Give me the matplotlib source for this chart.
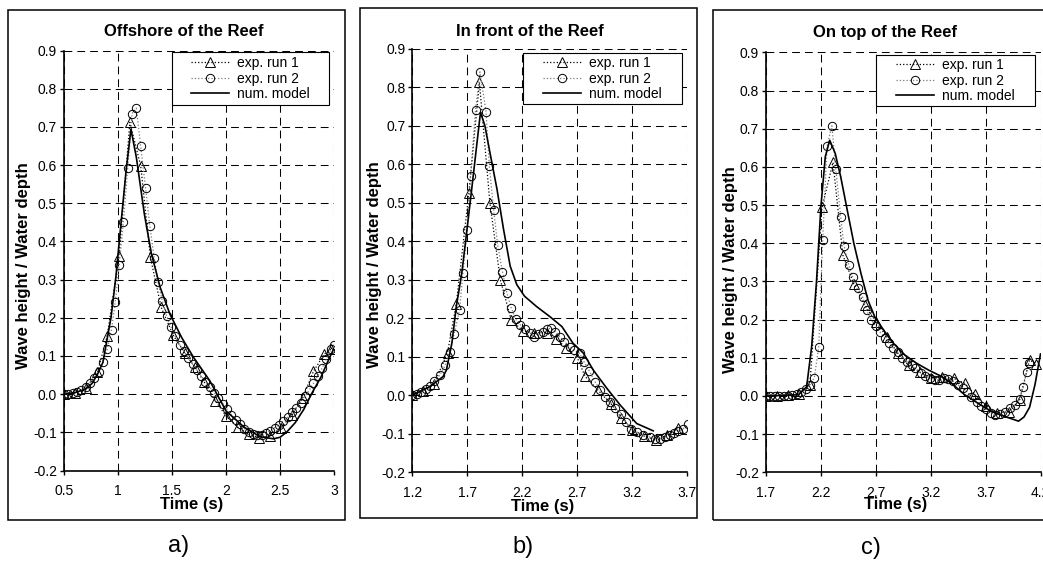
import matplotlib
matplotlib.use('Agg')
import matplotlib.pyplot as plt
from matplotlib.patches import Rectangle

plt.rcParams['font.family'] = ['Liberation Sans', 'DejaVu Sans']

# ---- data: panel a) offshore of the reef ----
a_t1 = [0.50, 0.60, 0.70, 0.81, 0.90, 1.01, 1.11, 1.21, 1.30, 1.40, 1.51, 1.62, 1.71,
        1.80, 1.90, 2.00, 2.11, 2.21, 2.31, 2.41, 2.51, 2.61, 2.71, 2.81, 2.91, 2.97]
a_h1 = [0.000, 0.003, 0.015, 0.057, 0.153, 0.362, 0.712, 0.598, 0.358, 0.227, 0.155, 0.107, 0.072,
        0.031, -0.017, -0.057, -0.087, -0.105, -0.114, -0.110, -0.088, -0.055, -0.010, 0.060, 0.105, 0.118]
a_t2 = [0.50, 0.54, 0.58, 0.62, 0.66, 0.70, 0.74, 0.78, 0.82, 0.86, 0.90, 0.94, 0.975, 1.01, 1.05,
        1.09, 1.13, 1.17, 1.21, 1.255, 1.295, 1.335, 1.37, 1.41, 1.45, 1.49, 1.53, 1.57, 1.61, 1.65,
        1.69, 1.73, 1.77, 1.81, 1.85, 1.89, 1.93, 1.97, 2.01, 2.05, 2.09, 2.13, 2.17, 2.21, 2.25,
        2.29, 2.33, 2.37, 2.41, 2.45, 2.49, 2.53, 2.57, 2.61, 2.65, 2.69, 2.73, 2.77, 2.81, 2.85,
        2.89, 2.93, 2.97, 3.00]
a_h2 = [0.000, 0.000, 0.003, 0.006, 0.012, 0.020, 0.030, 0.043, 0.058, 0.083, 0.118, 0.169, 0.242, 0.337, 0.450,
        0.592, 0.735, 0.749, 0.649, 0.540, 0.440, 0.356, 0.293, 0.245, 0.205, 0.177, 0.152, 0.130, 0.112, 0.095,
        0.079, 0.063, 0.048, 0.033, 0.019, 0.004, -0.010, -0.025, -0.040, -0.054, -0.067, -0.078, -0.090, -0.099, -0.104,
        -0.107, -0.106, -0.102, -0.096, -0.088, -0.080, -0.070, -0.060, -0.048, -0.035, -0.022, -0.006, 0.010, 0.028, 0.048,
        0.068, 0.092, 0.117, 0.130]
a_tm = [0.50, 0.60, 0.70, 0.76, 0.81, 0.86, 0.935, 0.98, 1.03, 1.075, 1.12, 1.17, 1.245, 1.31, 1.39,
        1.48, 1.59, 1.70, 1.85, 2.00, 2.17, 2.32, 2.44, 2.50, 2.56, 2.64, 2.72, 2.80, 2.88, 2.95, 3.00]
a_hm = [0.000, 0.004, 0.013, 0.028, 0.052, 0.083, 0.200, 0.306, 0.454, 0.585, 0.694, 0.620, 0.470, 0.367, 0.280,
        0.210, 0.148, 0.096, 0.035, -0.044, -0.087, -0.112, -0.117, -0.113, -0.100, -0.075, -0.040, 0.005, 0.045, 0.090, 0.120]

# ---- data: panel b) in front of the reef ----
b_t1 = [1.20, 1.30, 1.40, 1.52, 1.60, 1.715, 1.81, 1.906, 2.00, 2.10, 2.21, 2.31, 2.42,
        2.51, 2.60, 2.70, 2.77, 2.89, 3.01, 3.10, 3.20, 3.31, 3.42, 3.52, 3.62]
b_h1 = [0.000, 0.010, 0.030, 0.110, 0.237, 0.526, 0.813, 0.498, 0.300, 0.194, 0.166, 0.162, 0.162,
        0.145, 0.123, 0.097, 0.049, 0.012, -0.024, -0.059, -0.090, -0.107, -0.117, -0.105, -0.085]
b_t2 = [1.20, 1.24, 1.28, 1.32, 1.36, 1.40, 1.45, 1.50, 1.54, 1.58, 1.63, 1.66, 1.70, 1.73, 1.775,
        1.815, 1.87, 1.90, 1.94, 1.976, 2.02, 2.06, 2.10, 2.14, 2.18, 2.22, 2.27, 2.31, 2.345, 2.385,
        2.42, 2.46, 2.50, 2.54, 2.58, 2.63, 2.67, 2.72, 2.76, 2.81, 2.86, 2.91, 2.95, 3.00, 3.04,
        3.10, 3.14, 3.19, 3.24, 3.30, 3.36, 3.41, 3.45, 3.50, 3.54, 3.58, 3.62, 3.66, 3.71]
b_h2 = [0.000, 0.003, 0.008, 0.015, 0.024, 0.036, 0.052, 0.078, 0.113, 0.159, 0.222, 0.316, 0.430, 0.570, 0.742,
        0.840, 0.737, 0.596, 0.480, 0.390, 0.320, 0.265, 0.226, 0.197, 0.183, 0.171, 0.161, 0.150, 0.159, 0.165,
        0.171, 0.174, 0.165, 0.152, 0.139, 0.126, 0.116, 0.109, 0.087, 0.062, 0.035, 0.012, -0.005, -0.018, -0.033,
        -0.048, -0.070, -0.087, -0.096, -0.104, -0.109, -0.113, -0.113, -0.109, -0.104, -0.098, -0.094, -0.088, -0.074]
b_tm = [1.20, 1.36, 1.48, 1.51, 1.56, 1.60, 1.65, 1.69, 1.74, 1.785, 1.82, 1.86, 1.906, 1.97,
        2.03, 2.09, 2.15, 2.22, 2.33, 2.45, 2.56, 2.66, 2.755, 2.845, 2.97, 3.09, 3.24, 3.39]
b_hm = [0.000, 0.022, 0.048, 0.065, 0.135, 0.230, 0.317, 0.413, 0.535, 0.648, 0.735, 0.700, 0.630, 0.535,
        0.430, 0.335, 0.287, 0.257, 0.230, 0.204, 0.178, 0.135, 0.109, 0.065, 0.017, -0.026, -0.074, -0.093]

# ---- data: panel c) on top of the reef ----
c_t1 = [1.70, 1.80, 1.90, 2.00, 2.10, 2.21, 2.31, 2.40, 2.50, 2.60, 2.70, 2.80, 2.90,
        3.00, 3.10, 3.20, 3.30, 3.41, 3.51, 3.60, 3.70, 3.80, 3.91, 4.01, 4.10, 4.16]
c_h1 = [0.000, 0.000, 0.002, 0.006, 0.030, 0.494, 0.612, 0.369, 0.293, 0.238, 0.195, 0.155, 0.112,
        0.080, 0.062, 0.048, 0.050, 0.046, 0.033, 0.005, -0.025, -0.045, -0.041, -0.010, 0.094, 0.085]
c_t2 = [1.70, 1.74, 1.78, 1.82, 1.86, 1.90, 1.94, 1.98, 2.02, 2.06, 2.10, 2.14, 2.18, 2.216, 2.256,
        2.30, 2.335, 2.38, 2.41, 2.455, 2.49, 2.535, 2.58, 2.617, 2.657, 2.70, 2.74, 2.785, 2.82, 2.86,
        2.90, 2.94, 2.98, 3.03, 3.06, 3.11, 3.15, 3.19, 3.24, 3.28, 3.32, 3.36, 3.40, 3.45, 3.49,
        3.53, 3.57, 3.62, 3.66, 3.70, 3.75, 3.79, 3.835, 3.88, 3.92, 3.97, 4.01, 4.044, 4.074, 4.098]
c_h2 = [0.000, 0.000, 0.000, 0.000, 0.001, 0.001, 0.002, 0.004, 0.010, 0.018, 0.030, 0.048, 0.128, 0.408, 0.655,
        0.708, 0.596, 0.470, 0.394, 0.343, 0.311, 0.282, 0.259, 0.224, 0.200, 0.183, 0.167, 0.151, 0.138, 0.125,
        0.114, 0.100, 0.090, 0.081, 0.072, 0.061, 0.052, 0.046, 0.042, 0.042, 0.046, 0.044, 0.040, 0.029, 0.020,
        0.011, -0.002, -0.015, -0.026, -0.035, -0.044, -0.050, -0.047, -0.041, -0.032, -0.024, -0.008, 0.024, 0.064, 0.086]
c_tm = [1.70, 1.995, 2.07, 2.116, 2.16, 2.20, 2.24, 2.28, 2.33, 2.38, 2.44, 2.50, 2.565, 2.63, 2.69, 2.77,
        2.86, 2.966, 3.07, 3.18, 3.30, 3.39, 3.51, 3.63, 3.756, 3.877, 4.00, 4.05, 4.10, 4.15, 4.20]
c_hm = [0.000, 0.003, 0.024, 0.130, 0.300, 0.496, 0.627, 0.670, 0.636, 0.575, 0.487, 0.400, 0.321, 0.250, 0.208, 0.173,
        0.138, 0.107, 0.086, 0.068, 0.051, 0.033, 0.003, -0.019, -0.041, -0.054, -0.066, -0.055, -0.030, 0.030, 0.110]

titles = ['Offshore of the Reef', 'In front of the Reef', 'On top of the Reef']
panel_labels = ['a)', 'b)', 'c)']
x_ticks = [[0.5, 1.0, 1.5, 2.0, 2.5, 3.0],
           [1.2, 1.7, 2.2, 2.7, 3.2, 3.7],
           [1.7, 2.2, 2.7, 3.2, 3.7, 4.2]]
y_ticks = [-0.2, -0.1, 0.0, 0.1, 0.2, 0.3, 0.4, 0.5, 0.6, 0.7, 0.8, 0.9]
series = [(a_t1, a_h1, a_t2, a_h2, a_tm, a_hm),
          (b_t1, b_h1, b_t2, b_h2, b_tm, b_hm),
          (c_t1, c_h1, c_t2, c_h2, c_tm, c_hm)]

# ---- layout (pixel boxes, top-left origin) ----
W, H = 1043, 563
axes_px = [(64, 50.5, 334, 470.5), (412.3, 48.8, 687.3, 472), (766, 52.5, 1040.5, 472.3)]
frame_px = [(8, 10, 345, 520), (360, 8, 697, 518), (713, 10, 1060, 520)]
legend_px = [(172, 52, 329, 105), (522.7, 52.7, 682.3, 104.3), (875.7, 55, 1035, 106)]
title_px = [(184, 32), (530, 32), (885, 32)]
xlabel_px = [(192, 505), (543, 507), (896, 505)]
ylabel_px = [(24, 266), (374, 265), (730, 270)]
letter_px = [(179, 546), (523, 547), (871, 548)]


def fx(x):
    return x / W


def fy(y):
    return 1 - y / H


fig = plt.figure(figsize=(W / 100, H / 100), dpi=100)
fig.patch.set_facecolor('white')

for i in range(3):
    t1, h1, t2, h2, tm, hm = series[i]
    x0, y0, x1, y1 = axes_px[i]
    ax = fig.add_axes([fx(x0), fy(y1), (x1 - x0) / W, (y1 - y0) / H])

    ax.plot(t1, h1, color='black', ls=':', lw=0.9, marker='^', ms=6.5, mfc='none', mec='black', mew=0.7,
            label='exp. run 1', zorder=3)
    ax.plot(t2, h2, color='#7a7a7a', ls=':', lw=0.9, marker='o', ms=6, mfc='none', mec='black', mew=0.7,
            label='exp. run 2', zorder=3)
    ax.plot(tm, hm, color='black', ls='-', lw=1.2, label='num. model', zorder=4)

    ax.set_xlim(x_ticks[i][0], x_ticks[i][-1])
    ax.set_ylim(-0.2, 0.9)
    ax.set_xticks(x_ticks[i])
    ax.set_xticklabels([f'{v:g}' for v in x_ticks[i]])
    ax.set_yticks(y_ticks)
    ax.set_yticklabels([f'{v:.1f}' for v in y_ticks])
    ax.tick_params(direction='out', length=3, width=1, labelsize=10, colors='black')
    ax.tick_params(axis='x', pad=7)
    ax.tick_params(axis='y', pad=2)
    ax.grid(True, color='black', lw=0.75, ls=(0, (7.5, 4.8)))
    ax.set_axisbelow(True)
    for s in ['top', 'right']:
        ax.spines[s].set_visible(False)
    for s in ['left', 'bottom']:
        ax.spines[s].set_linewidth(1.2)
        ax.spines[s].set_zorder(5)

    # legend box
    lx0, ly0, lx1, ly1 = legend_px[i]
    ax.add_patch(Rectangle((fx(lx0), fy(ly1)), (lx1 - lx0) / W, (ly1 - ly0) / H,
                           transform=fig.transFigure, facecolor='white', edgecolor='black',
                           lw=0.8, zorder=6, clip_on=False))
    leg = ax.legend(loc='center', bbox_to_anchor=(fx((lx0 + lx1) / 2), fy((ly0 + ly1) / 2)),
                    bbox_transform=fig.transFigure, frameon=False, fontsize=10, numpoints=1,
                    handlelength=2.7, handletextpad=0.6, labelspacing=0.12, borderpad=0.2)
    leg.set_zorder(7)

    # frame around each chart
    fx0, fy0, fx1, fy1 = frame_px[i]
    fig.add_artist(Rectangle((fx(fx0), fy(fy1)), (fx1 - fx0) / W, (fy1 - fy0) / H,
                             transform=fig.transFigure, fill=False, edgecolor='black', lw=1.1))

    fig.text(fx(title_px[i][0]), fy(title_px[i][1]), titles[i], ha='center', va='center',
             fontsize=12, fontweight='bold')
    fig.text(fx(xlabel_px[i][0]), fy(xlabel_px[i][1]), 'Time (s)', ha='center', va='center',
             fontsize=12, fontweight='bold')
    fig.text(fx(ylabel_px[i][0]), fy(ylabel_px[i][1]), 'Wave height / Water depth', ha='center',
             va='center', rotation=90, fontsize=12, fontweight='bold')
    fig.text(fx(letter_px[i][0]), fy(letter_px[i][1]), panel_labels[i], ha='center', va='center',
             fontsize=17)

fig.savefig('out.png', dpi=100)
